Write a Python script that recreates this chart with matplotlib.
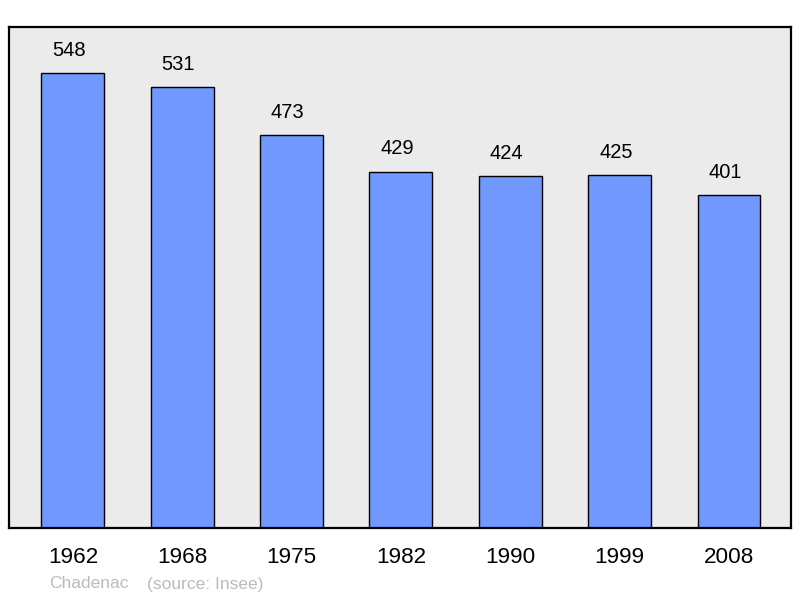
import matplotlib.pyplot as plt
import numpy as np

years = ["1962", "1968", "1975", "1982", "1990", "1999", "2008"]
population = [548, 531, 473, 429, 424, 425, 401]
commune = "Chadenac"
source = "(source: Insee)"

plt.rcParams['font.family'] = ['Liberation Sans', 'DejaVu Sans']

fig = plt.figure(figsize=(8, 5.98), dpi=100)
ax = fig.add_axes([9/800, 70/598, 782/800, 501/598])
ax.set_facecolor('#ebebeb')

x = np.arange(len(years))
bars = ax.bar(x, population, width=0.576, color='#7098ff',
              edgecolor='black', linewidth=1.0)

# value labels sit a little left of the bar centre in the original
for xi, v in zip(x, population):
    ax.annotate(str(v), (xi, v), xytext=(-2.8, 16.5), textcoords='offset points',
                ha='center', va='center', fontsize=14.5)

ax.set_xlim(-0.585, 6.567)
ax.set_ylim(0, 603.5)
ax.set_xticks(x)
ax.set_xticklabels(years, fontsize=16.2)
ax.tick_params(axis='x', length=0, pad=13.5)
ax.set_yticks([])
for s in ax.spines.values():
    s.set_linewidth(1.6)

fig.text(49/800, 1 - 584/598, commune, color='#bbbbbb', fontsize=12.5, va='center')
fig.text(147/800, 1 - 584/598, source, color='#bbbbbb', fontsize=12.5, va='center')

fig.savefig("out.png", dpi=100)
